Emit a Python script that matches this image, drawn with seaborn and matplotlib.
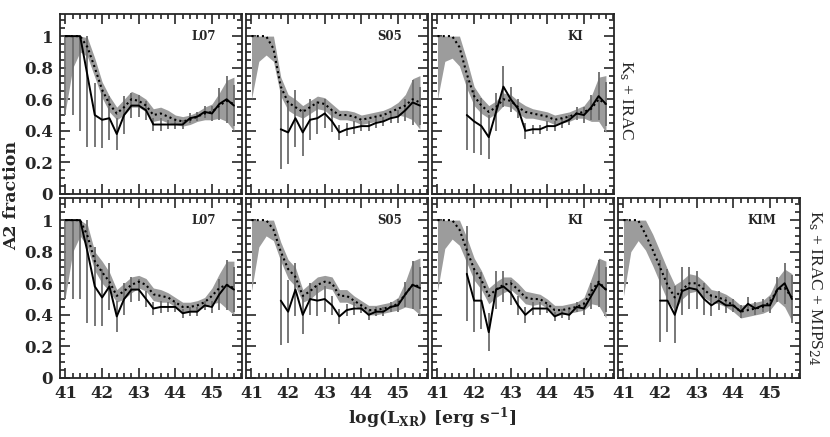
import numpy as np
import pandas as pd
import seaborn as sns
import matplotlib.pyplot as plt
from matplotlib.ticker import MultipleLocator, FuncFormatter

# log L_XR bins
logL = [41.0, 41.2, 41.4, 41.6, 41.8, 42.0, 42.2, 42.4, 42.6, 42.8, 43.0, 43.2,
        43.4, 43.6, 43.8, 44.0, 44.2, 44.4, 44.6, 44.8, 45.0, 45.2, 45.4, 45.6]
nan = None

# --- Ks + IRAC (top row) ---
# exp = dotted model line, sig = half width of grey band, obs = black line, err = its error bar
l07_irac_exp = [1.0, 1.0, 1.0, 0.93, 0.80, 0.66, 0.57, 0.51, 0.55, 0.60, 0.59, 0.56,
                0.50, 0.51, 0.49, 0.47, 0.46, 0.47, 0.49, 0.51, 0.52, 0.56, 0.59, 0.57]
l07_irac_sig = [0.47, 0.20, 0.10, 0.06, 0.06, 0.05, 0.05, 0.04, 0.05, 0.05, 0.04, 0.04,
                0.04, 0.04, 0.04, 0.03, 0.03, 0.03, 0.03, 0.04, 0.05, 0.08, 0.13, 0.17]
l07_irac_obs = [1.0, 1.0, 1.0, 0.75, 0.50, 0.47, 0.48, 0.38, 0.50, 0.56, 0.56, 0.53,
                0.44, 0.44, 0.44, 0.44, 0.44, 0.48, 0.49, 0.52, 0.51, 0.57, 0.60, 0.56]
l07_irac_err = [0.50, 0.50, 0.60, 0.45, 0.20, 0.18, 0.14, 0.10, 0.12, 0.08, 0.07, 0.06,
                0.04, 0.04, 0.03, 0.03, 0.03, 0.03, 0.03, 0.04, 0.05, 0.10, 0.15, 0.13]

s05_irac_exp = [1.0, 1.0, 1.0, 0.92, 0.68, 0.58, 0.55, 0.52, 0.55, 0.58, 0.57, 0.53,
                0.50, 0.50, 0.49, 0.47, 0.48, 0.49, 0.50, 0.52, 0.54, 0.56, 0.60, 0.58]
s05_irac_sig = [0.40, 0.16, 0.12, 0.08, 0.06, 0.05, 0.05, 0.04, 0.04, 0.04, 0.04, 0.04,
                0.03, 0.03, 0.03, 0.03, 0.03, 0.03, 0.03, 0.03, 0.04, 0.07, 0.13, 0.17]
s05_irac_obs = [nan, nan, nan, nan, 0.41, 0.39, 0.48, 0.39, 0.47, 0.48, 0.51, 0.46,
                0.39, 0.41, 0.42, 0.43, 0.43, 0.45, 0.46, 0.48, 0.49, 0.53, 0.58, 0.56]
s05_irac_err = [nan, nan, nan, nan, 0.25, 0.20, 0.18, 0.15, 0.13, 0.10, 0.09, 0.07,
                0.05, 0.04, 0.04, 0.03, 0.03, 0.03, 0.03, 0.03, 0.04, 0.07, 0.14, 0.12]

ki_irac_exp = [1.0, 1.0, 1.0, 0.93, 0.76, 0.62, 0.56, 0.52, 0.55, 0.60, 0.59, 0.55,
               0.52, 0.51, 0.50, 0.49, 0.47, 0.48, 0.49, 0.51, 0.52, 0.54, 0.60, 0.57]
ki_irac_sig = [0.40, 0.16, 0.14, 0.12, 0.09, 0.06, 0.05, 0.04, 0.04, 0.04, 0.04, 0.04,
               0.04, 0.03, 0.03, 0.03, 0.03, 0.03, 0.03, 0.03, 0.04, 0.08, 0.14, 0.18]
ki_irac_obs = [nan, nan, nan, nan, 0.50, 0.46, 0.43, 0.36, 0.52, 0.68, 0.60, 0.54,
               0.40, 0.41, 0.41, 0.43, 0.43, 0.45, 0.47, 0.51, 0.50, 0.55, 0.62, 0.57]
ki_irac_err = [nan, nan, nan, nan, 0.22, 0.20, 0.18, 0.14, 0.12, 0.13, 0.08, 0.06,
               0.05, 0.03, 0.03, 0.03, 0.03, 0.03, 0.03, 0.04, 0.05, 0.08, 0.15, 0.14]

# --- Ks + IRAC + MIPS24 (bottom row) ---
l07_mips_exp = [1.0, 1.0, 1.0, 0.90, 0.74, 0.67, 0.61, 0.52, 0.55, 0.59, 0.61, 0.59,
                0.53, 0.52, 0.51, 0.48, 0.45, 0.45, 0.46, 0.48, 0.52, 0.57, 0.59, 0.57]
l07_mips_sig = [0.48, 0.20, 0.10, 0.07, 0.06, 0.07, 0.06, 0.04, 0.05, 0.05, 0.04, 0.04,
                0.04, 0.04, 0.03, 0.03, 0.03, 0.03, 0.03, 0.03, 0.05, 0.09, 0.15, 0.17]
l07_mips_obs = [1.0, 1.0, 1.0, 0.80, 0.58, 0.51, 0.58, 0.39, 0.50, 0.56, 0.56, 0.50,
                0.44, 0.45, 0.45, 0.45, 0.41, 0.42, 0.42, 0.46, 0.45, 0.53, 0.59, 0.56]
l07_mips_err = [0.50, 0.50, 0.50, 0.45, 0.25, 0.18, 0.15, 0.10, 0.10, 0.08, 0.07, 0.05,
                0.04, 0.04, 0.03, 0.03, 0.03, 0.03, 0.03, 0.03, 0.04, 0.10, 0.16, 0.14]

s05_mips_exp = [1.0, 1.0, 1.0, 0.94, 0.80, 0.69, 0.64, 0.52, 0.55, 0.59, 0.61, 0.60,
                0.52, 0.52, 0.49, 0.46, 0.43, 0.43, 0.44, 0.45, 0.47, 0.53, 0.59, 0.58]
s05_mips_sig = [0.45, 0.17, 0.10, 0.07, 0.06, 0.06, 0.06, 0.04, 0.05, 0.05, 0.04, 0.04,
                0.04, 0.04, 0.03, 0.03, 0.03, 0.03, 0.03, 0.03, 0.04, 0.08, 0.15, 0.18]
s05_mips_obs = [nan, nan, nan, nan, 0.49, 0.42, 0.56, 0.40, 0.50, 0.49, 0.50, 0.46,
                0.39, 0.43, 0.44, 0.44, 0.40, 0.42, 0.42, 0.45, 0.46, 0.53, 0.59, 0.57]
s05_mips_err = [nan, nan, nan, nan, 0.28, 0.20, 0.17, 0.12, 0.10, 0.10, 0.08, 0.06,
                0.05, 0.04, 0.04, 0.03, 0.03, 0.03, 0.03, 0.03, 0.04, 0.08, 0.15, 0.13]

ki_mips_exp = [1.0, 1.0, 1.0, 0.94, 0.81, 0.69, 0.62, 0.52, 0.56, 0.59, 0.60, 0.56,
               0.51, 0.50, 0.50, 0.47, 0.43, 0.43, 0.44, 0.45, 0.47, 0.55, 0.61, 0.56]
ki_mips_sig = [0.45, 0.18, 0.12, 0.10, 0.08, 0.07, 0.06, 0.05, 0.05, 0.05, 0.04, 0.04,
               0.04, 0.04, 0.03, 0.03, 0.03, 0.03, 0.03, 0.03, 0.04, 0.08, 0.15, 0.18]
ki_mips_obs = [nan, nan, nan, nan, 0.66, 0.49, 0.49, 0.29, 0.56, 0.58, 0.54, 0.46,
               0.40, 0.44, 0.44, 0.44, 0.39, 0.41, 0.40, 0.45, 0.44, 0.52, 0.60, 0.56]
ki_mips_err = [nan, nan, nan, nan, 0.30, 0.20, 0.18, 0.12, 0.12, 0.10, 0.08, 0.06,
               0.05, 0.04, 0.04, 0.03, 0.03, 0.03, 0.03, 0.03, 0.04, 0.08, 0.15, 0.14]

kim_mips_exp = [1.0, 1.0, 1.0, 0.91, 0.81, 0.70, 0.59, 0.51, 0.56, 0.60, 0.60, 0.56,
                0.52, 0.51, 0.49, 0.46, 0.42, 0.43, 0.44, 0.45, 0.48, 0.56, 0.57, 0.51]
kim_mips_sig = [0.48, 0.20, 0.13, 0.10, 0.10, 0.10, 0.10, 0.08, 0.06, 0.06, 0.05, 0.05,
                0.04, 0.04, 0.04, 0.04, 0.04, 0.04, 0.04, 0.04, 0.05, 0.07, 0.12, 0.15]
kim_mips_obs = [nan, nan, nan, nan, nan, 0.49, 0.49, 0.40, 0.55, 0.57, 0.56, 0.50,
                0.46, 0.49, 0.46, 0.46, 0.42, 0.47, 0.44, 0.46, 0.46, 0.56, 0.60, 0.50]
kim_mips_err = [nan, nan, nan, nan, nan, 0.26, 0.20, 0.18, 0.15, 0.13, 0.12, 0.10,
                0.07, 0.06, 0.05, 0.04, 0.04, 0.04, 0.04, 0.04, 0.05, 0.08, 0.13, 0.15]

# --- style ---
sns.set_style("ticks")
plt.rcParams['font.family'] = ['DejaVu Serif']
plt.rcParams['mathtext.fontset'] = 'dejavuserif'

W, H = 830, 437
fig = plt.figure(figsize=(W / 100, H / 100), dpi=100)


def draw(left, top, name, exp, sig, obs, err, xlab, ylab):
    ax = fig.add_axes([left / W, 1 - (top + 180) / H, 182 / W, 180 / H])
    df = pd.DataFrame({'logL': logL, 'exp': exp, 'sig': sig, 'obs': obs, 'err': err}).astype(float)

    # grey band round the dotted line
    lo = df['exp'] - df['sig']
    hi = np.minimum(df['exp'] + df['sig'], 1.0)
    ax.fill_between(df['logL'], lo, hi, color='#9c9c9c', lw=0, zorder=1)

    d = df.dropna()
    up = np.minimum(d['obs'] + d['err'], 1.0) - d['obs']
    ax.errorbar(d['logL'], d['obs'], yerr=[d['err'], up], fmt='none',
                ecolor='#6c6c6c', elinewidth=1.3, capsize=0, zorder=2)
    sns.lineplot(data=df, x='logL', y='exp', ax=ax, color='black', lw=1.5,
                 linestyle=(0, (1, 1.5)), zorder=3)
    sns.lineplot(data=d, x='logL', y='obs', ax=ax, color='black', lw=1.4, zorder=4)

    ax.set(xlabel='', ylabel='', xlim=(40.85, 45.82), ylim=(0, 1.14))
    ax.xaxis.set_major_locator(MultipleLocator(1))
    ax.xaxis.set_minor_locator(MultipleLocator(0.2))
    ax.yaxis.set_major_locator(MultipleLocator(0.2))
    ax.yaxis.set_minor_locator(MultipleLocator(0.05))
    ax.yaxis.set_major_formatter(FuncFormatter(lambda v, p: '%g' % round(v, 2)))
    ax.tick_params(which='both', direction='in', top=True, right=True, width=1.2,
                   labelsize=12, labelbottom=xlab, labelleft=ylab, pad=5)
    ax.tick_params(which='major', length=7)
    ax.tick_params(which='minor', length=3.5)
    for lab in ax.get_xticklabels() + ax.get_yticklabels():
        lab.set_fontweight('bold')
    for s in ax.spines.values():
        s.set_linewidth(1.3)
    ax.text(0.79, 1.0, name, transform=ax.get_yaxis_transform(), ha='center', va='center',
            fontsize=8.5, fontweight='bold')
    return ax


draw(60, 14, 'L07', l07_irac_exp, l07_irac_sig, l07_irac_obs, l07_irac_err, False, True)
draw(246, 14, 'S05', s05_irac_exp, s05_irac_sig, s05_irac_obs, s05_irac_err, False, False)
draw(432, 14, 'KI', ki_irac_exp, ki_irac_sig, ki_irac_obs, ki_irac_err, False, False)

draw(60, 198, 'L07', l07_mips_exp, l07_mips_sig, l07_mips_obs, l07_mips_err, True, True)
draw(246, 198, 'S05', s05_mips_exp, s05_mips_sig, s05_mips_obs, s05_mips_err, True, False)
draw(432, 198, 'KI', ki_mips_exp, ki_mips_sig, ki_mips_obs, ki_mips_err, True, False)
draw(618, 198, 'KIM', kim_mips_exp, kim_mips_sig, kim_mips_obs, kim_mips_err, True, False)

fig.text(12 / W, 1 - 196 / H, 'A2 fraction', rotation=90, ha='center', va='center',
         fontsize=12.5, fontweight='bold')
fig.text(432 / W, 1 - 418 / H, r'log(L$_{\mathbf{XR}}$) [erg s$^{\mathbf{-1}}$]',
         ha='center', va='center', fontsize=12.5, fontweight='bold')
fig.text(626 / W, 1 - 100 / H, r'K$_{\rm s}$ + IRAC', rotation=270, ha='center', va='center',
         fontsize=12.5, family='Liberation Serif')
fig.text(815 / W, 1 - 288 / H, r'K$_{\rm s}$ + IRAC + MIPS$_{24}$', rotation=270,
         ha='center', va='center', fontsize=12.5, family='Liberation Serif')

plt.savefig('out.png', dpi=100)
